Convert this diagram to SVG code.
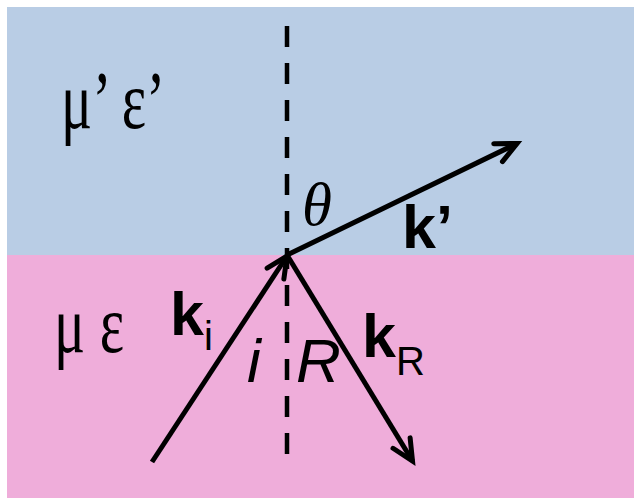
<svg xmlns="http://www.w3.org/2000/svg" width="634" height="499" viewBox="0 0 634 499">
<defs>
<style>
.ray{stroke:#000;stroke-width:5;fill:none;stroke-linecap:butt}
.head{stroke:#000;stroke-width:5;fill:none;stroke-linecap:round;stroke-linejoin:miter}
.greek{font-family:"Liberation Serif","Times New Roman",serif;font-size:66px;fill:#000}
.bk{font-family:"Liberation Sans",Arial,sans-serif;font-weight:bold;font-size:61px;fill:#000}
.sub{font-family:"Liberation Sans",Arial,sans-serif;font-size:40px;fill:#000}
.it{font-family:"Liberation Sans",Arial,sans-serif;font-style:italic;font-size:62px;fill:#000}
</style>
<marker id="arr" markerUnits="userSpaceOnUse" markerWidth="40" markerHeight="40" viewBox="-30 -20 40 40" refX="0" refY="0" orient="auto">
<path d="M-21,-10 L0,0 L-21,10" class="head"/>
</marker>
</defs>
<g id="media">
<rect x="7" y="7" width="627" height="248" fill="#B9CDE5"/>
<rect x="7" y="255" width="627" height="243" fill="#EFADDA"/>
</g>
<g id="connectors">
<line id="normal" x1="287" y1="26" x2="287" y2="454" stroke="#000" stroke-width="4.5" stroke-dasharray="21 16"/>
<line id="k-transmitted" x1="287" y1="255" x2="517" y2="143.5" class="ray" marker-end="url(#arr)"/>
<line id="k-incident" x1="152" y1="462" x2="287" y2="256" class="ray" marker-end="url(#arr)"/>
<line id="k-reflected" x1="287" y1="255" x2="412.5" y2="461" class="ray" marker-end="url(#arr)"/>
</g>
<g id="label-top-medium">
<text transform="translate(61,128) scale(0.88,1.25)" class="greek">μ’ ε’</text>
</g>
<g id="label-bottom-medium">
<text transform="translate(54,352) scale(0.88,1.25)" class="greek">μ ε</text>
</g>
<g id="label-theta">
<text x="302" y="225" font-family="Liberation Serif,'Times New Roman',serif" font-style="italic" font-size="61">θ</text>
</g>
<g id="label-kprime">
<text x="402" y="248" class="bk">k’</text>
</g>
<g id="label-ki">
<text x="170" y="335" class="bk">k<tspan class="sub" font-weight="normal" dy="15">i</tspan></text>
</g>
<g id="label-i">
<text x="247" y="382" class="it">i</text>
</g>
<g id="label-R">
<text x="296" y="382" class="it">R</text>
</g>
<g id="label-kR">
<text x="362" y="357" class="bk">k<tspan class="sub" font-weight="normal" dy="18">R</tspan></text>
</g>
</svg>
